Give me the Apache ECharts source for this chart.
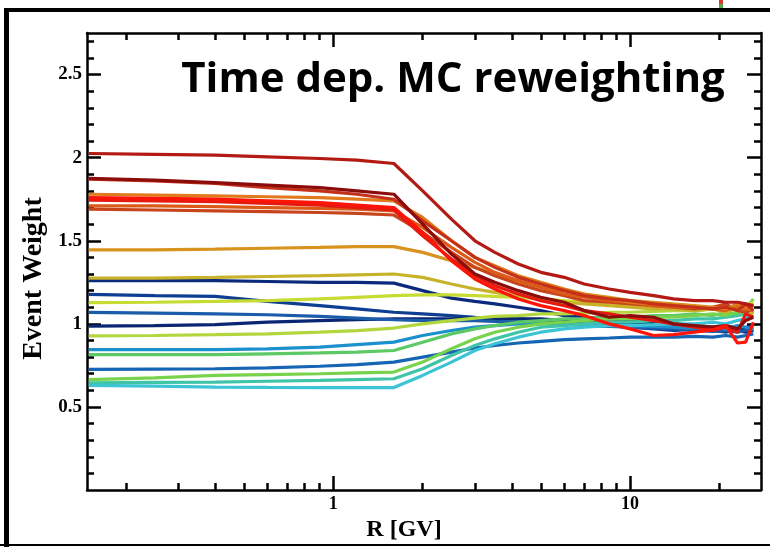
<!DOCTYPE html>
<html>
<head>
<meta charset="utf-8">
<script src="https://cdn.jsdelivr.net/npm/echarts@6/dist/echarts.min.js"></script>
<style>
html,body{margin:0;padding:0;background:#fff;}
#chart{width:770px;height:547px;}
</style>
</head>
<body>
<div id="chart"></div>
<script>
// Rigidity grid (GV)
const R = [0.15, 0.25, 0.4, 0.6, 0.9, 1.2, 1.6, 2.0, 2.5, 3.0, 3.5, 4.2, 5.0, 6.0, 7.0, 8.5, 10, 12, 14, 16.5, 19, 21, 23, 24.5, 26];

// Event weight curves
const wNavyA   = [1.26, 1.26, 1.26, 1.255, 1.25, 1.25, 1.245, 1.20, 1.155, 1.135, 1.12, 1.10, 1.08, 1.05, 1.04, 1.03, 1.02, 1.01, 1.00, 0.99, 0.98, 0.99, 0.97, 0.98, 0.99];
const wNavyB   = [1.178, 1.17, 1.165, 1.135, 1.11, 1.09, 1.07, 1.06, 1.05, 1.04, 1.035, 1.03, 1.02, 1.01, 1.00, 0.99, 0.98, 0.97, 0.96, 0.97, 0.96, 0.95, 0.97, 0.96, 0.97];
const wNavyC   = [0.987, 0.99, 0.995, 1.01, 1.02, 1.025, 1.03, 1.03, 1.03, 1.035, 1.03, 1.03, 1.03, 1.02, 1.02, 1.01, 1.00, 1.00, 0.99, 0.98, 0.97, 0.98, 0.96, 0.95, 0.96];
const wBlueA   = [1.069, 1.065, 1.06, 1.055, 1.045, 1.035, 1.025, 1.02, 1.02, 1.02, 1.015, 1.01, 1.005, 1.0, 0.99, 0.985, 0.98, 0.975, 0.97, 0.96, 0.955, 0.96, 0.95, 0.96, 0.97];
const wBlueB   = [0.726, 0.728, 0.73, 0.735, 0.745, 0.755, 0.77, 0.80, 0.83, 0.855, 0.87, 0.885, 0.895, 0.905, 0.91, 0.915, 0.92, 0.92, 0.92, 0.925, 0.92, 0.93, 0.92, 0.93, 0.94];
const wTealBl  = [0.845, 0.845, 0.845, 0.85, 0.86, 0.875, 0.89, 0.93, 0.96, 0.98, 0.99, 1.00, 1.0, 1.0, 0.995, 0.99, 0.99, 0.985, 0.98, 0.975, 0.98, 0.97, 0.99, 0.98, 0.97];
const wCyan    = [0.63, 0.625, 0.62, 0.618, 0.617, 0.617, 0.617, 0.69, 0.77, 0.84, 0.88, 0.92, 0.95, 0.97, 0.98, 0.99, 0.99, 0.995, 1.0, 1.0, 1.01, 1.0, 1.02, 1.03, 1.05];
const wTealGr  = [0.645, 0.648, 0.65, 0.655, 0.66, 0.665, 0.67, 0.73, 0.81, 0.87, 0.91, 0.95, 0.98, 0.99, 1.0, 1.01, 1.01, 1.02, 1.02, 1.03, 1.03, 1.04, 1.05, 1.06, 1.08];
const wGreenA  = [0.815, 0.815, 0.815, 0.82, 0.825, 0.83, 0.84, 0.89, 0.94, 0.97, 0.99, 1.01, 1.02, 1.03, 1.03, 1.04, 1.04, 1.05, 1.05, 1.06, 1.05, 1.07, 1.06, 1.08, 1.06];
const wGreenB  = [0.665, 0.675, 0.69, 0.695, 0.70, 0.705, 0.71, 0.77, 0.85, 0.91, 0.95, 0.98, 1.0, 1.01, 1.02, 1.03, 1.03, 1.04, 1.04, 1.05, 1.06, 1.05, 1.07, 1.09, 1.15];
const wYGreenA = [0.928, 0.93, 0.935, 0.94, 0.95, 0.96, 0.975, 1.00, 1.02, 1.035, 1.045, 1.05, 1.06, 1.06, 1.065, 1.07, 1.07, 1.075, 1.08, 1.08, 1.09, 1.07, 1.10, 1.09, 1.12];
const wYGreenB = [1.128, 1.13, 1.135, 1.14, 1.15, 1.16, 1.17, 1.175, 1.175, 1.17, 1.165, 1.16, 1.15, 1.14, 1.13, 1.12, 1.11, 1.10, 1.10, 1.09, 1.10, 1.08, 1.09, 1.11, 1.13];
const wGold    = [1.275, 1.275, 1.28, 1.285, 1.29, 1.295, 1.30, 1.28, 1.24, 1.21, 1.19, 1.17, 1.15, 1.13, 1.12, 1.11, 1.10, 1.09, 1.09, 1.08, 1.09, 1.07, 1.10, 1.08, 1.06];
const wOrGold  = [1.445, 1.445, 1.45, 1.455, 1.46, 1.465, 1.465, 1.43, 1.38, 1.34, 1.30, 1.26, 1.22, 1.20, 1.18, 1.16, 1.14, 1.13, 1.12, 1.11, 1.10, 1.11, 1.09, 1.12, 1.10];
const wBrick   = [1.69, 1.685, 1.68, 1.675, 1.67, 1.665, 1.655, 1.55, 1.43, 1.34, 1.29, 1.24, 1.20, 1.17, 1.14, 1.13, 1.12, 1.11, 1.10, 1.09, 1.10, 1.12, 1.08, 1.07, 1.09];
const wOrRed   = [1.71, 1.71, 1.705, 1.70, 1.695, 1.69, 1.68, 1.58, 1.46, 1.37, 1.31, 1.26, 1.22, 1.18, 1.16, 1.14, 1.13, 1.11, 1.10, 1.10, 1.09, 1.08, 1.11, 1.09, 1.11];
const wOrange  = [1.78, 1.775, 1.77, 1.765, 1.76, 1.75, 1.74, 1.64, 1.50, 1.40, 1.35, 1.29, 1.25, 1.21, 1.18, 1.15, 1.13, 1.12, 1.11, 1.10, 1.10, 1.09, 1.12, 1.10, 1.08];
const wRedB    = [1.745, 1.74, 1.735, 1.725, 1.715, 1.70, 1.685, 1.53, 1.39, 1.29, 1.23, 1.18, 1.14, 1.11, 1.08, 1.06, 1.04, 1.02, 1.00, 0.98, 0.96, 0.98, 0.95, 1.06, 1.04];
const wBrickRd = [1.87, 1.86, 1.845, 1.82, 1.80, 1.78, 1.75, 1.62, 1.50, 1.40, 1.34, 1.28, 1.24, 1.20, 1.17, 1.15, 1.14, 1.12, 1.11, 1.10, 1.09, 1.10, 1.08, 1.12, 1.08];
const wMaroon  = [1.875, 1.865, 1.85, 1.835, 1.82, 1.80, 1.78, 1.60, 1.42, 1.30, 1.25, 1.20, 1.16, 1.13, 1.08, 1.04, 1.05, 1.04, 1.00, 0.99, 0.98, 0.99, 0.97, 1.02, 1.04];
const wDarkRed = [2.025, 2.02, 2.015, 2.005, 1.995, 1.985, 1.965, 1.80, 1.63, 1.50, 1.43, 1.36, 1.31, 1.28, 1.24, 1.21, 1.19, 1.17, 1.15, 1.14, 1.14, 1.13, 1.13, 1.12, 1.11];
const wRedA    = [1.76, 1.755, 1.75, 1.74, 1.73, 1.715, 1.70, 1.55, 1.38, 1.27, 1.21, 1.15, 1.11, 1.08, 1.05, 1.00, 0.97, 0.93, 0.935, 0.95, 0.965, 0.99, 0.885, 0.89, 1.01];

// Ticks
const xMajorTicks = [1, 10];
const xMinorTicks = [0.2, 0.3, 0.4, 0.5, 0.6, 0.7, 0.8, 0.9, 2, 3, 4, 5, 6, 7, 8, 9, 20];
const yMajorTicks = [0.5, 1, 1.5, 2, 2.5];
const yMinorTicks = [0.1, 0.2, 0.3, 0.4, 0.6, 0.7, 0.8, 0.9, 1.1, 1.2, 1.3, 1.4, 1.6, 1.7, 1.8, 1.9, 2.1, 2.2, 2.3, 2.4, 2.6, 2.7];

const curves = [
  [wNavyA, '#0c2a7c'], [wNavyB, '#0e3e92'], [wNavyC, '#0a2572'], [wBlueA, '#1a5caa'],
  [wBlueB, '#1664b4'], [wTealBl, '#1c90cc'], [wCyan, '#3cc4d6'], [wTealGr, '#40c4a8'],
  [wGreenA, '#5cc866'], [wGreenB, '#78d24c'], [wYGreenA, '#b2d63e'], [wYGreenB, '#c6dc32'],
  [wGold, '#c8b22a'], [wOrGold, '#d8921e'], [wBrick, '#c8441c'], [wOrRed, '#dc5a18'],
  [wOrange, '#e07a1c'], [wRedB, '#e41a10'], [wBrickRd, '#c43018'], [wMaroon, '#8c0c0c'],
  [wDarkRed, '#b41a14'], [wRedA, '#ff1408']
];

const XMIN = 0.148, XMAX = 27.6;
const serif = 'Liberation Serif';
const axisLineStyle = {color: '#000', width: 2.5};
const tickStyle = {color: '#000', width: 2.5};

function xAx(position, ticks, len, showLine, showLabel) {
  return {
    type: 'log', logBase: 10, min: XMIN, max: XMAX, position: position,
    axisLine: {show: showLine, onZero: false, lineStyle: axisLineStyle},
    axisTick: {show: true, inside: true, length: len, customValues: ticks, lineStyle: tickStyle},
    axisLabel: showLabel ? {show: true, customValues: xMajorTicks, formatter: v => String(v),
      fontFamily: serif, fontWeight: 'bold', fontSize: 18, color: '#000', margin: 5} : {show: false},
    splitLine: {show: false}, minorTick: {show: false}, minorSplitLine: {show: false}
  };
}
function yAx(position, ticks, len, showLine, showLabel) {
  return {
    type: 'value', min: 0, max: 2.75, position: position,
    axisLine: {show: showLine, onZero: false, lineStyle: axisLineStyle},
    axisTick: {show: true, inside: true, length: len, customValues: ticks, lineStyle: tickStyle},
    axisLabel: showLabel ? {show: true, customValues: yMajorTicks, formatter: v => String(v),
      fontFamily: serif, fontWeight: 'bold', fontSize: 19, color: '#000', margin: 5} : {show: false},
    splitLine: {show: false}
  };
}

const xAxes = [
  xAx('bottom', xMajorTicks, 14, true, true),
  xAx('bottom', xMinorTicks, 7, false, false),
  xAx('top', xMajorTicks, 14, true, false),
  xAx('top', xMinorTicks, 7, false, false)
];
xAxes[0].name = 'R [GV]';
xAxes[0].nameLocation = 'middle';
xAxes[0].nameGap = 15;
xAxes[0].nameTextStyle = {fontFamily: serif, fontWeight: 'bold', fontSize: 24, color: '#000', padding: [0, 40, 0, 0]};

const yAxes = [
  yAx('left', yMajorTicks, 14, true, true),
  yAx('left', yMinorTicks, 7, false, false),
  yAx('right', yMajorTicks, 14, true, false),
  yAx('right', yMinorTicks, 7, false, false)
];
yAxes[0].name = 'Event Weight';
yAxes[0].nameLocation = 'middle';
yAxes[0].nameGap = 37;
yAxes[0].nameTextStyle = {fontFamily: serif, fontWeight: 'bold', fontSize: 28, color: '#000', padding: [0, 34, 0, 0]};

const series = curves.map(([vals, color]) => ({
  type: 'line',
  xAxisIndex: 0, yAxisIndex: 0,
  data: R.map((r, i) => [r, vals[i]]),
  showSymbol: false, symbol: 'none',
  lineStyle: {color: color, width: 3.2},
  itemStyle: {color: color},
  silent: true, z: 2
}));

const chart = echarts.init(document.getElementById('chart'), null, {renderer: 'canvas'});
chart.setOption({
  animation: false,
  backgroundColor: '#fff',
  grid: {left: 87, right: 9, top: 33, bottom: 54, containLabel: false},
  title: {
    text: 'Time dep. MC reweighting',
    left: 448, top: 54, textAlign: 'center',
    textStyle: {fontFamily: 'Open Sans', fontWeight: 'bold', fontSize: 42, color: '#000'}
  },
  xAxis: xAxes,
  yAxis: yAxes,
  series: series,
  graphic: [
    {type: 'rect', shape: {x: 4, y: 8, width: 5, height: 539}, style: {fill: '#000'}, silent: true},
    {type: 'rect', shape: {x: 4, y: 8, width: 766, height: 4}, style: {fill: '#000'}, silent: true},
    {type: 'rect', shape: {x: 0, y: 544, width: 770, height: 2}, style: {fill: '#000'}, silent: true},
    {type: 'rect', shape: {x: 719, y: 0, width: 4, height: 4}, style: {fill: '#d63a2a'}, silent: true},
    {type: 'rect', shape: {x: 719, y: 4, width: 4, height: 4}, style: {fill: '#5aa84a'}, silent: true}
  ]
});
</script>
</body>
</html>
